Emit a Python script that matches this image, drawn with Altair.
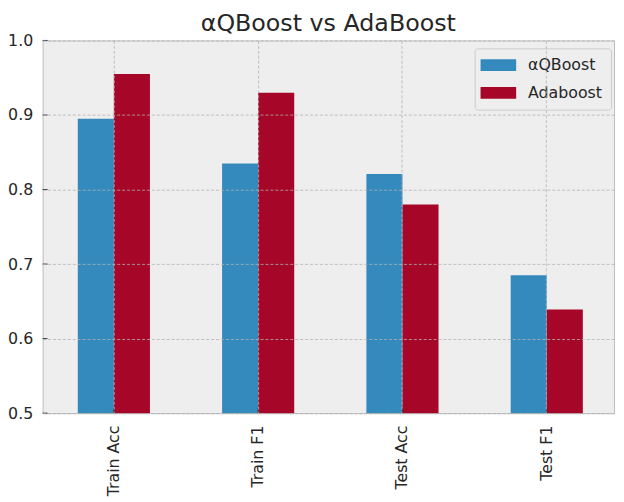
import altair as alt
import pandas as pd

categories = ["Train Acc", "Train F1", "Test Acc", "Test F1"]
models = ["αQBoost", "Adaboost"]
qboost = [0.895, 0.835, 0.821, 0.685]
adaboost = [0.955, 0.930, 0.780, 0.639]
y_ticks = [0.5, 0.6, 0.7, 0.8, 0.9, 1.0]
colors = ["#348ABD", "#A60628"]

rows = []
for c, q, a in zip(categories, qboost, adaboost):
    rows.append({"metric": c, "model": models[0], "value": q})
    rows.append({"metric": c, "model": models[1], "value": a})
df = pd.DataFrame(rows)
ytick_df = pd.DataFrame({"tick": y_ticks})
xtick_df = pd.DataFrame({"metric": categories})

W, H = 578, 377
FONT = "DejaVu Sans"
TXT = "#262626"
GRID = "#b2b2b2"

xscale = alt.Scale(domain=categories, paddingInner=0.5, paddingOuter=0.23, align=0.53, round=False)
yscale = alt.Scale(domain=[0.5, 1.0], nice=False, zero=False)

x_axis = alt.Axis(title=None, labelAngle=270, labelFontSize=16, labelFont=FONT,
                  labelColor=TXT, labelPadding=12, ticks=False, tickSize=0,
                  domain=False, grid=True, gridColor=GRID, gridDash=[3, 2],
                  gridWidth=0.8, bandPosition=0.5, zindex=1)
y_axis = alt.Axis(title=None, values=y_ticks, format=".1f", labelFontSize=16,
                  labelFont=FONT, labelColor=TXT, labelPadding=10, ticks=False,
                  tickSize=0, domain=False, grid=True, gridColor=GRID,
                  gridDash=[3, 2], gridWidth=0.8, zindex=1)

bars = alt.Chart(df).mark_bar().encode(
    x=alt.X("metric:N", sort=categories, scale=xscale, axis=x_axis),
    xOffset=alt.XOffset("model:N", sort=models, scale=alt.Scale(domain=models, paddingInner=0, paddingOuter=0)),
    y=alt.Y("value:Q", scale=yscale, axis=y_axis),
    y2=alt.datum(0.5),
    color=alt.Color("model:N", sort=models,
                    scale=alt.Scale(domain=models, range=colors),
                    legend=alt.Legend(title=None, orient="none", legendX=437, legendY=8,
                                      fillColor="rgba(238,238,238,0.8)", strokeColor="#cccccc",
                                      cornerRadius=3, padding=9, labelFontSize=16,
                                      labelFont=FONT, labelColor=TXT,
                                      symbolType="M-3,-1H3V1H-3Z", symbolSize=144,
                                      symbolOffset=7, symbolStrokeWidth=0,
                                      labelOffset=22, rowPadding=12)),
)

yticks = alt.Chart(ytick_df).mark_rule(color="#333333", strokeWidth=1).encode(
    y=alt.Y("tick:Q", scale=yscale, axis=y_axis),
    x=alt.value(0), x2=alt.value(5),
)

xticks = alt.Chart(xtick_df).mark_rule(color="#333333", strokeWidth=1).encode(
    x=alt.X("metric:N", sort=categories, scale=xscale, axis=x_axis),
    y=alt.value(H), y2=alt.value(H - 5),
)

chart = alt.layer(bars, yticks, xticks).properties(
    width=W, height=H,
    background="white",
    title=alt.Title("αQBoost vs AdaBoost", fontSize=24, font=FONT, fontWeight="normal",
                    color=TXT, offset=5, dy=8, anchor="middle"),
    autosize=alt.AutoSizeParams(type="none"),
    padding={"left": 35, "top": 30, "right": 2, "bottom": 85},
).configure_view(
    fill="#eeeeee", stroke="#bcbcbc", strokeWidth=1
)

chart.save("out.html", embed_options={"renderer": "svg", "actions": False})
